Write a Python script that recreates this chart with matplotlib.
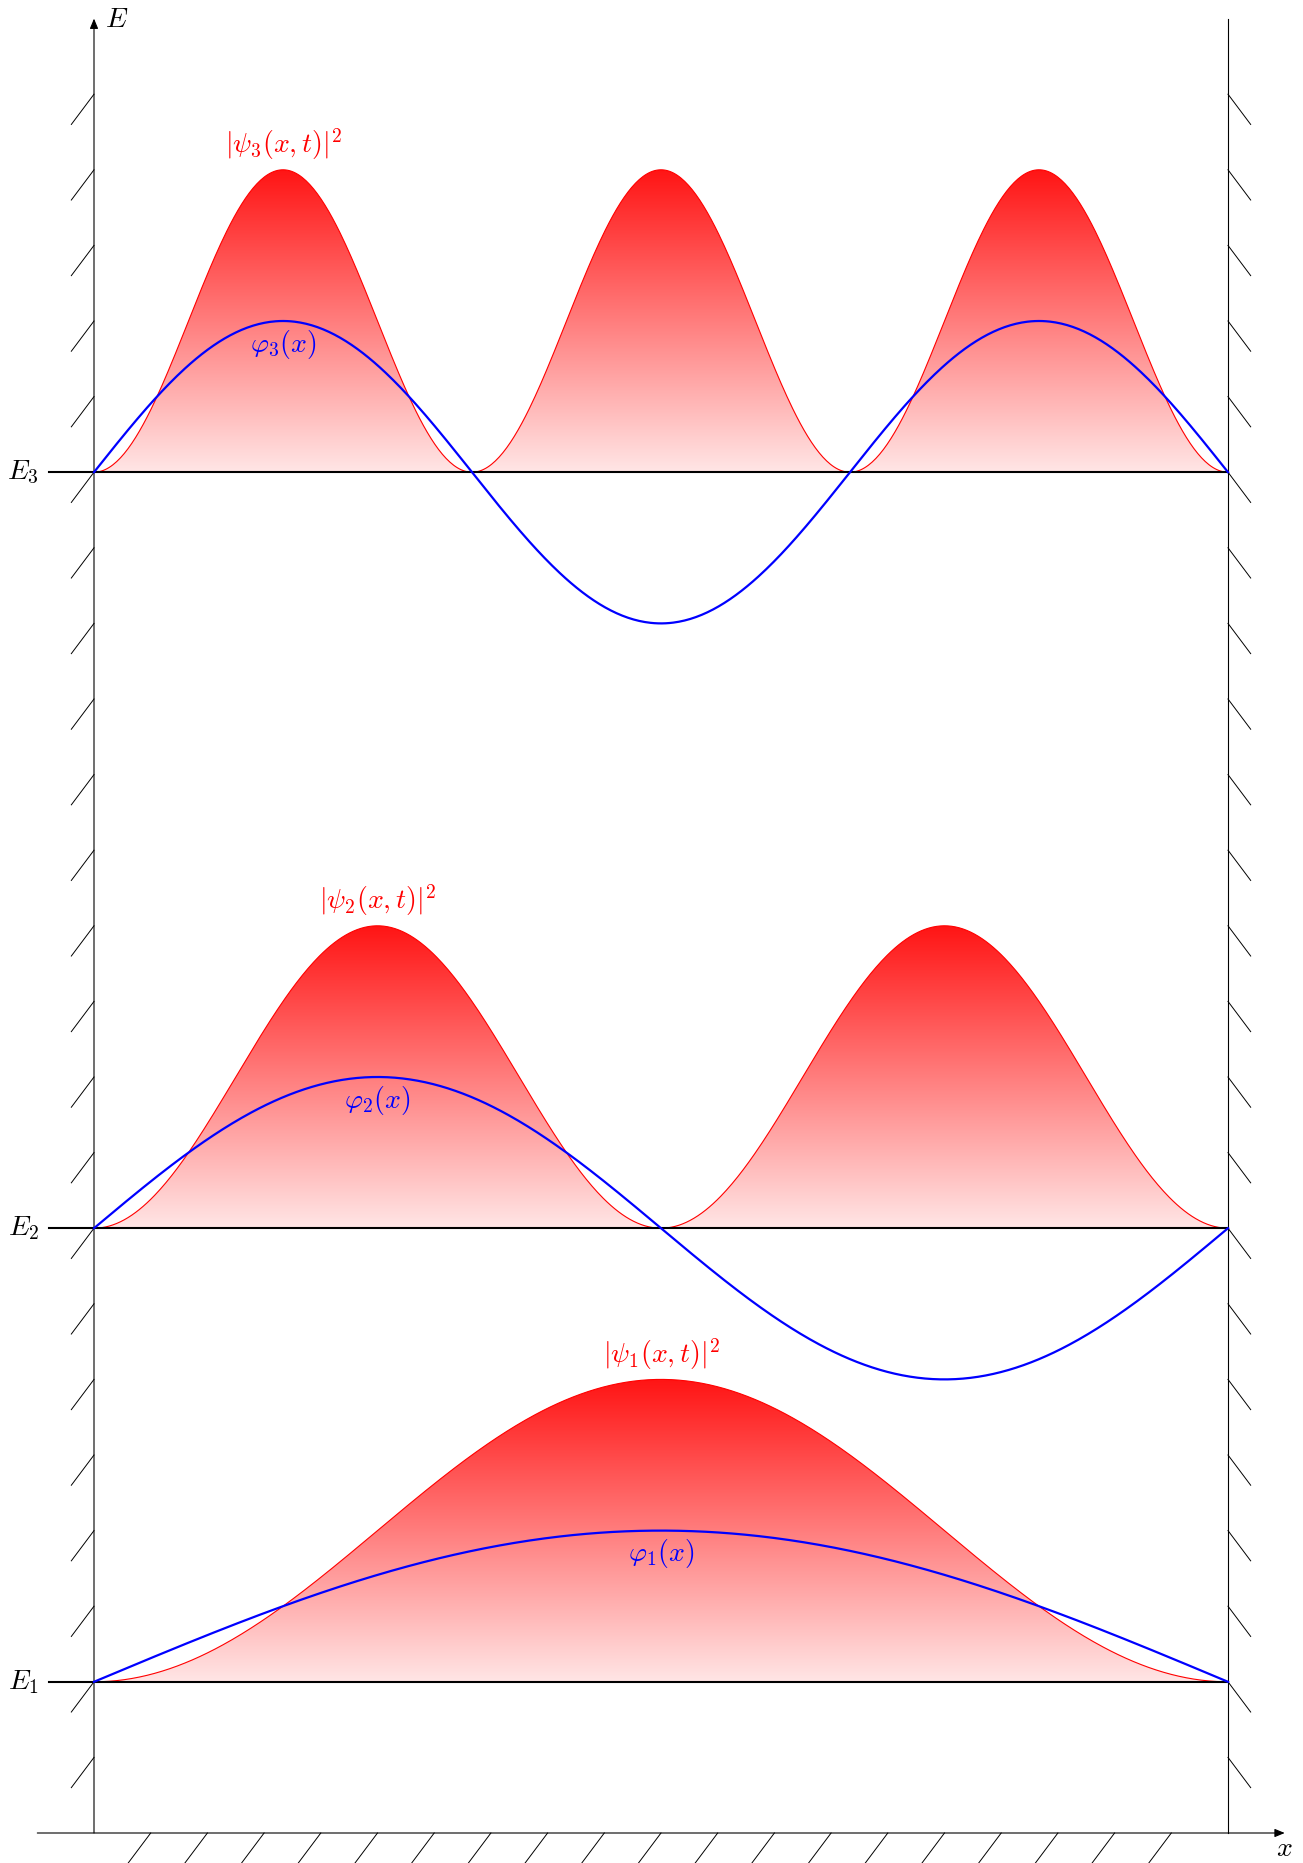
import numpy as np
import matplotlib
matplotlib.use("Agg")
import matplotlib.pyplot as plt
from matplotlib.patches import Polygon

plt.rcParams['mathtext.fontset'] = 'cm'

# Infinite square well, first three states
well_width = 15.0
levels = [1, 2, 3]
energy_levels = [2.0, 8.0, 18.0]      # E_n drawn at 2 n^2
phi_amplitude = 2.0                    # height of phi_n(x) above E_n
psi_amplitude = 4.0                    # height of |psi_n|^2 above E_n
phi_labels = [r'$\varphi_1(x)$', r'$\varphi_2(x)$', r'$\varphi_3(x)$']
psi_labels = [r'$|\psi_1(x,t)|^2$', r'$|\psi_2(x,t)|^2$', r'$|\psi_3(x,t)|^2$']
energy_labels = [r'$E_1$', r'$E_2$', r'$E_3$']

# frame
e_axis_top = 24.0
x_axis_range = (-0.75, 15.75)
wall_hatch_y = np.arange(1, 24)
floor_hatch_x = np.arange(1, 20) * 0.75

px = 75.6      # pixels per unit
ox, oy = 94, 1833
W, H = 1303, 1863

fig = plt.figure(figsize=(W / 100, H / 100), dpi=100)
ax = fig.add_axes([0, 0, 1, 1])
ax.set_axis_off()

x = np.linspace(0, well_width, 600)
fs = 20

# gradient: red at the top fading to pale pink at the base
grad = np.linspace(0, 1, 256)[:, None]
top = np.array([1.0, 0.08, 0.08])
bot = np.array([1.0, 0.90, 0.90])
cols = bot + (top - bot) * grad
img = np.repeat(cols[:, None, :], 2, axis=1).reshape(256, 2, 3)

for n, E, pl, sl, el in zip(levels, energy_levels, phi_labels, psi_labels, energy_labels):
    k = n * np.pi / well_width
    psi = E + psi_amplitude * np.sin(k * x) ** 2
    phi = E + phi_amplitude * np.sin(k * x)

    verts = np.column_stack([np.r_[x, x[::-1]], np.r_[psi, np.full_like(x, E)]])
    poly = Polygon(verts, closed=True, facecolor='none', edgecolor='none')
    ax.add_patch(poly)
    im = ax.imshow(img, extent=(0, well_width, E, E + psi_amplitude),
                   origin='lower', aspect='auto', interpolation='bilinear', zorder=1)
    im.set_clip_path(poly)
    ax.plot(x, psi, color='red', lw=0.8, zorder=2)

    ax.plot([-0.6, well_width], [E, E], color='black', lw=1.5, zorder=3)
    ax.plot(x, phi, color='blue', lw=1.6, zorder=4)

    xp = well_width / (2 * n)
    ax.text(xp, E + psi_amplitude + 0.1, sl, color='red', fontsize=fs,
            ha='center', va='bottom')
    ax.text(xp, E + phi_amplitude - 0.09, pl, color='blue', fontsize=fs,
            ha='center', va='top')
    ax.text(-0.73, E, el, fontsize=fs, ha='right', va='center')

# axes and walls
arrow = dict(arrowstyle='-|>,head_length=0.6,head_width=0.25', lw=0.8,
             color='black', mutation_scale=10, shrinkA=0, shrinkB=0)
ax.annotate('', xy=(0, e_axis_top), xytext=(0, 0), arrowprops=arrow)
ax.annotate('', xy=(x_axis_range[1], 0), xytext=(x_axis_range[0], 0), arrowprops=arrow)
ax.plot([well_width, well_width], [0, e_axis_top], color='black', lw=0.8)
ax.text(0.14, e_axis_top, r'$E$', fontsize=fs, ha='left', va='center')
ax.text(x_axis_range[1], -0.2, r'$x$', fontsize=fs, ha='center', va='center')

# hatching
for y in wall_hatch_y:
    ax.plot([0, -0.3], [y, y - 0.4], color='black', lw=0.7)
    ax.plot([well_width, well_width + 0.3], [y, y - 0.4], color='black', lw=0.7)
for xh in floor_hatch_x:
    ax.plot([xh, xh - 0.3], [0, -0.4], color='black', lw=0.7)

ax.set_xlim(-ox / px, (W - ox) / px)
ax.set_ylim(-(H - oy) / px, oy / px)

fig.savefig('out.png', dpi=100)
